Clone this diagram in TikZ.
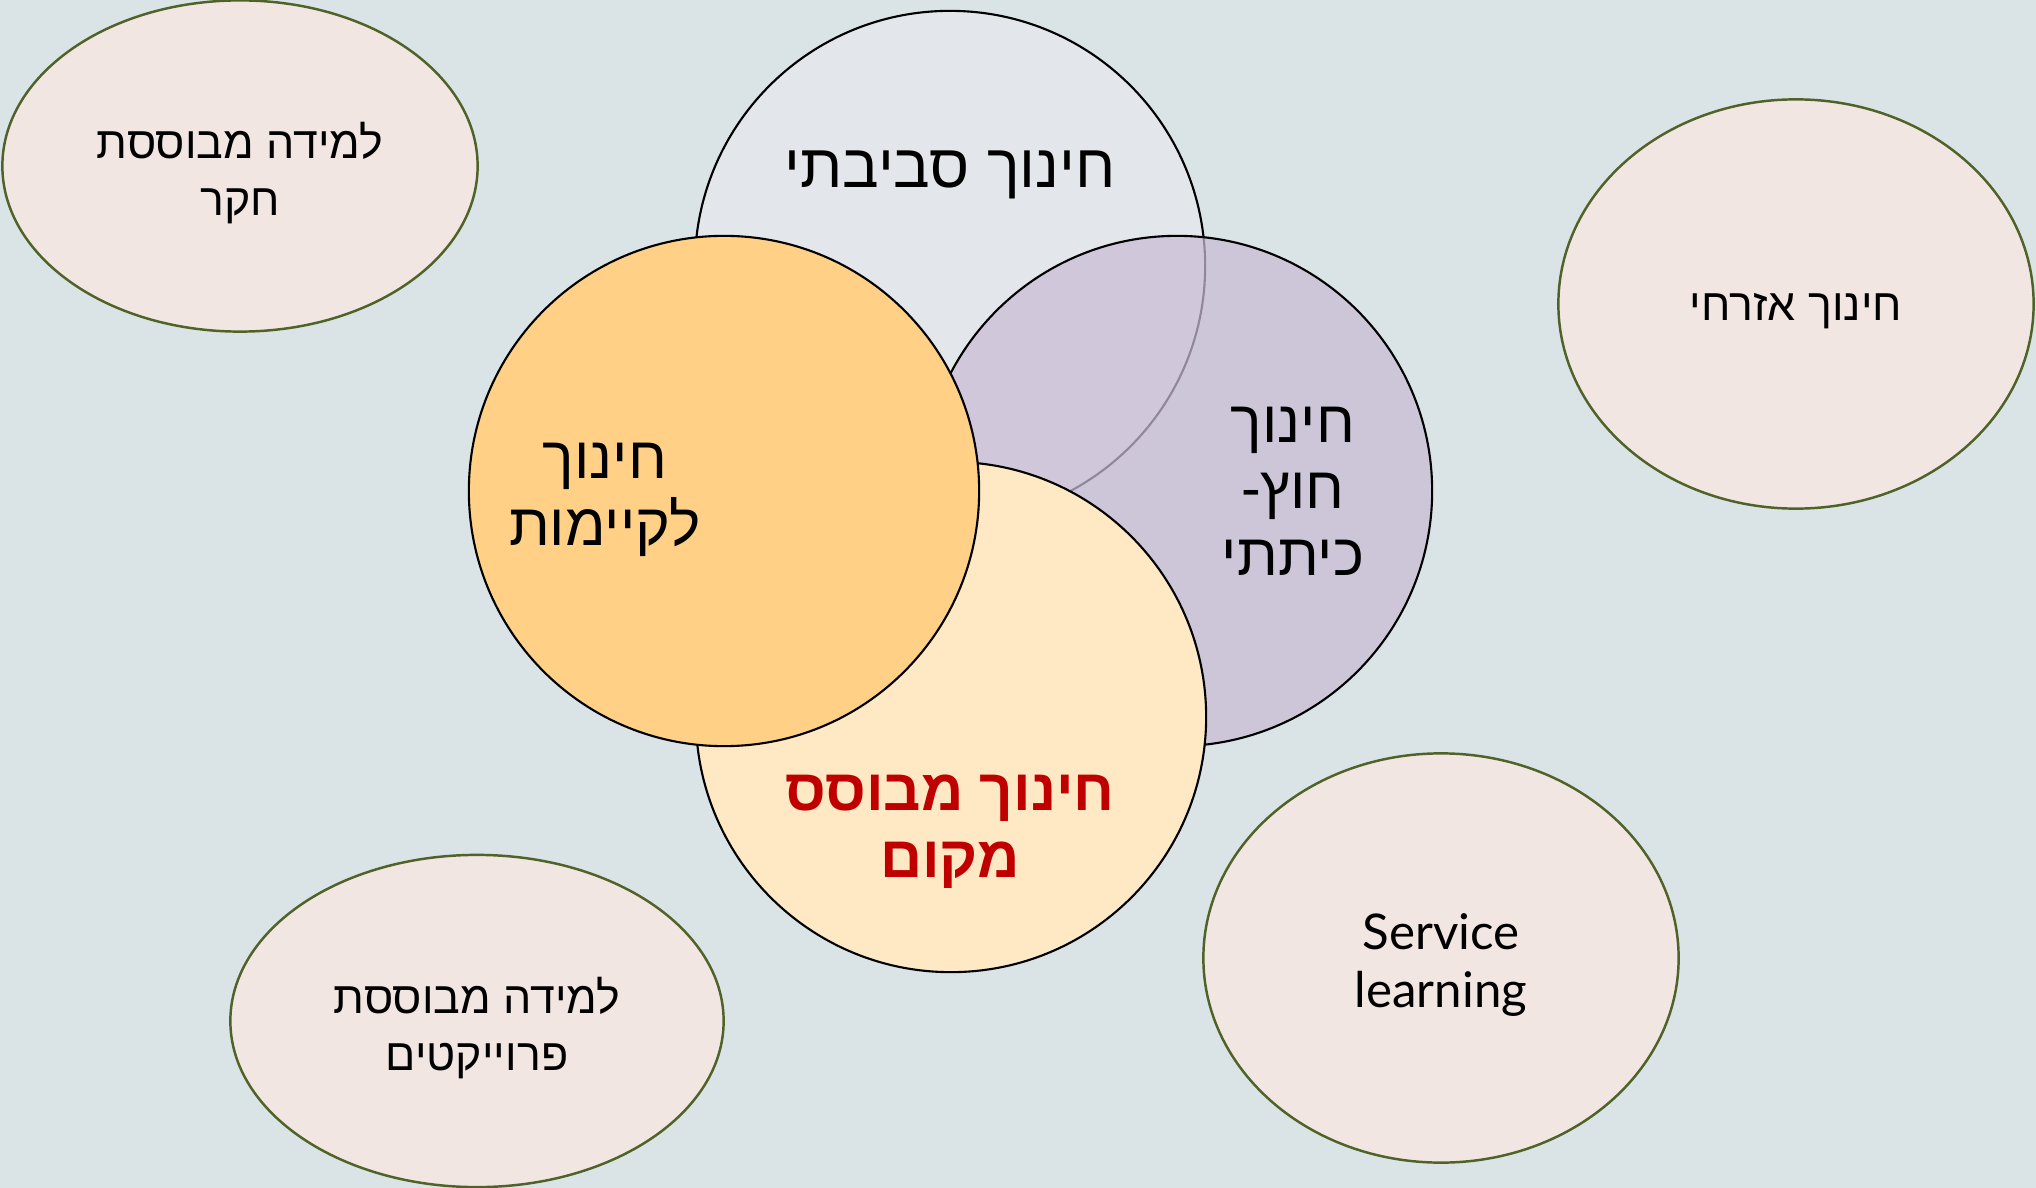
\documentclass[tikz,border=0pt]{standalone}
\usepackage{fontspec}
\usepackage{xcolor}
\usepackage{tikz}
\usetikzlibrary{shapes.geometric, positioning}

\setmainfont{Liberation Sans}
\newfontfamily\hebfont[Script=Hebrew]{Liberation Sans}
\newfontfamily\latfont{Lato}
\TeXXeTstate=1
\newcommand{\heb}[1]{\beginR#1\endR}

\definecolor{bgblue}{HTML}{DAE3E5}
\definecolor{envgray}{HTML}{E3E6EA}
\definecolor{outpurple}{HTML}{C9BCD5}
\definecolor{placecream}{HTML}{FFE8C4}
\definecolor{sustorange}{HTML}{FFD086}
\definecolor{topicfill}{HTML}{F2E6E2}
\definecolor{topicline}{HTML}{4F6228}
\definecolor{placered}{HTML}{C00000}

\begin{document}
\begin{tikzpicture}[x=0.01cm, y=-0.01cm,
    ring/.style={circle, draw=black, line width=0.6pt, minimum size=5.1cm, inner sep=0pt},
    topic/.style={ellipse, draw=topicline, fill=topicfill, line width=0.7pt, inner sep=0pt},
    topictxt/.style={align=center, font=\hebfont\fontsize{12.7}{16}\selectfont},
    bigtxt/.style={anchor=base, align=center, font=\hebfont\fontsize{16.8}{18.8}\selectfont}]
        \useasboundingbox (0,0) rectangle (2036,1188);
        \fill[bgblue] (0,0) rectangle (2036,1188);

        % the four overlapping circles
        \node[ring, fill=envgray] (env) at (950,266) {};
        \node[ring, fill=outpurple, fill opacity=0.72] (outdoor) at (1177,491) {};
        \node[ring, fill=placecream] (place) at (951,717) {};
        \node[ring, fill=sustorange] (sust) at (724,491) {};

        % base = last line
        \node[bigtxt, font=\hebfont\fontsize{17.4}{20}\selectfont] (envtxt) at (950,188) {\heb{חינוך סביבתי}};
        \node[bigtxt] (susttxt) at (605,545) {\heb{חינוך}\\ \heb{לקיימות}};
        \node[bigtxt] (outdoortxt) at (1293,575) {\heb{חינוך}\\ \heb{חוץ-}\\ \heb{כיתתי}};
        \node[bigtxt, text=placered, font=\hebfont\bfseries\fontsize{16.6}{18.8}\selectfont] (placetxt) at (950,877) {\heb{חינוך מבוסס}\\ \heb{מקום}};

        % surrounding approaches
        \node[topic, minimum width=4.75cm, minimum height=3.31cm] (inquiry) at (240,166) {};
        \node[topic, minimum width=4.75cm, minimum height=4.09cm] (civic) at (1796,304) {};
        \node[topic, minimum width=4.75cm, minimum height=4.09cm] (service) at (1441,958) {};
        \node[topic, minimum width=4.93cm, minimum height=3.32cm] (project) at (477,1021) {};

        \node[topictxt] (inquirytxt) at ([yshift=-2pt]inquiry.center) {\heb{למידה מבוססת}\\ \heb{חקר}};
        \node[topictxt] (civictxt) at ([yshift=-2pt]civic.center) {\heb{חינוך אזרחי}};
        \node[topictxt, font=\latfont\fontsize{14}{16.5}\selectfont] (servicetxt) at ([yshift=-2pt]service.center) {Service\\ learning};
        \node[topictxt] (projecttxt) at ([yshift=-2pt]project.center) {\heb{למידה מבוססת}\\ \heb{פרוייקטים}};
    \end{tikzpicture}
\end{document}
